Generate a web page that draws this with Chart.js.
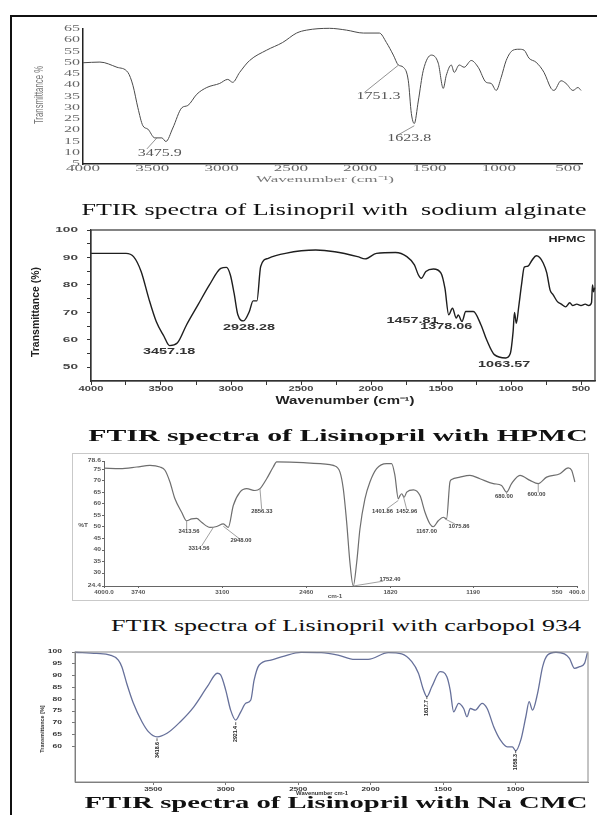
<!DOCTYPE html>
<html>
<head>
<meta charset="utf-8">
<script src="https://cdn.jsdelivr.net/npm/chart.js@4.4.0/dist/chart.umd.min.js"></script>
<style>
  html, body { margin: 0; padding: 0; background: #fff; }
  body { width: 597px; height: 815px; position: relative; overflow: hidden; }
  #frame { position: absolute; left: 10px; top: 15px; width: 620px; height: 820px; border-left: 2px solid #111; border-top: 2px solid #111; }
  #box3 { position: absolute; left: 72px; top: 453px; width: 515px; height: 146px; border: 1px solid #c9c9c9; }
  canvas { position: absolute; left: 0; }
  .cap { position: absolute; white-space: pre; font-family: "Liberation Serif", "Times New Roman", serif; font-size: 17px; color: #111; line-height: 1; }
  .cap.b { font-weight: bold; }
</style>
</head>
<body>
<div id="frame"></div>
<div id="box3"></div>
<canvas id="c1"></canvas>
<canvas id="c2"></canvas>
<canvas id="c3"></canvas>
<canvas id="c4"></canvas>
<script>
// ---- sodium alginate ----
const wn1 = [4000,3878,3755,3676,3640,3604,3568,3532,3482,3431,3402,3352,3287,3244,3179,3107,3014,2956,2920,2870,2798,2675,2560,2459,2387,2222,2099,1977,1862,1811,1761,1725,1689,1653,1631,1610,1581,1545,1487,1437,1401,1379,1343,1322,1286,1250,1199,1149,1091,1055,1019,983,947,897,854,818,782,731,674,623,602,551,515,465,429,407];
const t1 = [50,50.3,48,45.7,40,30,22,20.5,16.6,16.6,15,21,30,31,36,39,40.8,42.6,41.3,45.7,51,55.6,59,63.2,64.5,65.3,64.5,63.2,63.2,59,53.4,49,48,42,27.4,23,33,46.6,53.4,49.8,38.6,44.4,49,45.7,49,48,51,48,41.3,40.8,37.7,43.5,51,55.6,56,55.6,52,50.2,45.7,38.6,37.7,42,40.8,37.7,39,37.7];
const xTicks1 = [4000,3500,3000,2500,2000,1500,1000,500];
const yTicks1 = [5,10,15,20,25,30,35,40,45,50,55,60,65];
const peaks1 = ['3475.9','1751.3','1623.8'];
const peakWn1 = [3446,1869,1646];
const peakT1 = [9.9,35,16.2];
const leaders1 = [[3539,11.7,3467,16.6],[1970,36.8,1725,48.9],[1739,17.5,1610,22]];

// ---- HPMC ----
const wn2 = [4000,3750,3696,3642,3588,3534,3479,3439,3384,3317,3235,3154,3073,3032,3005,2978,2951,2910,2869,2842,2815,2788,2734,2611,2395,2259,2096,2042,1961,1825,1744,1690,1662,1641,1608,1554,1500,1472,1445,1418,1391,1377,1350,1323,1269,1215,1174,1119,1038,1005,985,975,962,945,925,905,880,850,820,795,770,745,720,700,670,640,610,580,560,530,500,470,445,425,418,410,402];
const t2 = [91.5,91.5,90.3,84.9,75.2,66.7,61.3,57.9,58.8,65.5,72.8,80,86,86.4,83.7,77,69.1,66.9,70.3,74.2,74.2,86.7,89.7,91.5,92.7,92.1,90.3,89.5,91.5,91.8,90.3,87.3,83.7,82.4,84.9,85.8,84.3,78.8,69.1,71.5,67.9,69.1,66.7,70.3,70.3,65.5,60,54.6,53.4,55,63,70,66,72,80,86.5,86.8,89,90.6,90,88,84.5,78,76.5,74,73,72,73.5,72.5,73,72.5,73,72.5,73.5,80,77.5,79];
const xTicks2 = [4000,3750,3500,3250,3000,2750,2500,2250,2000,1750,1500,1250,1000,750,500];
const yTicks2 = [50,55,60,65,70,75,80,85,90,95,100];
const xLabels2 = [4000,3500,3000,2500,2000,1500,1000,500];
const yLabels2 = [50,60,70,80,90,100];
const peaks2 = ['3457.18','2928.28','1457.81','1378.06','1063.57'];
const peakWn2 = [3442,2872,1704,1462,1049];
const peakT2 = [55.7,64.6,66.9,65.0,51.0];

// ---- carbopol 934 ----
const wn3 = [4000,3878,3751,3650,3574,3536,3498,3460,3409,3371,3333,3295,3257,3193,3142,3092,3054,3016,2965,2914,2851,2813,2762,2712,2686,2483,2280,2255,2204,2179,2153,2128,2103,2077,2052,2014,1976,1925,1849,1811,1786,1760,1747,1734,1716,1696,1645,1595,1557,1519,1494,1456,1418,1393,1367,1354,1291,1215,1139,1037,974,936,898,834,758,695,631,530,467,441,416];
const t3 = [75.5,75.3,76,76.7,76,74.6,69.5,62.2,56.4,52.7,53.5,53.7,52,49.8,50.2,51.3,49.8,59.3,65.1,66.6,65.8,66.6,70.9,76,78.2,77.9,77,76.7,73.8,66.6,52,34.5,24.4,34.5,49.1,62.2,69.5,75.3,77.5,77.5,72.4,62.2,63.6,64.4,62.9,65.1,66.1,63.6,56.4,51.3,50.1,52.7,54.2,53.5,69.5,70.6,71.6,72.4,70.9,68.8,68,65.1,68.8,72.4,70.2,68.8,71.6,73.1,75.6,74.6,69.5];
const xTicks3 = [4000,3740,3100,2460,1820,1190,550,400];
const xLabels3 = ['4000.0','3740','3100','2460','1820','1190','550','400.0'];
const yTicks3 = [24.4,30,35,40,45,50,55,60,65,70,75,78.6];
const peaks3 = ['3413.56','3314.56','2948.00','2856.33','1752.40','1401.86','1452.96','1167.00','1075.86','680.00','600.00'];
const peakWn3 = [3353,3277,2957,2798,1823,1880,1697,1545,1298,956,708];
const peakT3 = [47.9,40.6,44,56.7,27.3,56.7,56.7,47.9,50.2,63.3,64];
const leaders3 = [[3371,52.7,3371,48.8],[3168,49.8,3257,41.8],[3092,50.3,2965,44.7],[2813,66.6,2800,57.8],[2103,24.4,1875,26.5],[1760,61.5,1849,57.8],[1723,63.6,1697,57.8],[1405,53.5,1329,51.3],[936,65.1,936,64.2],[695,68.8,695,64.9]];

// ---- Na CMC ----
const wn4 = [4040,3891,3798,3741,3717,3683,3637,3578,3532,3474,3405,3313,3220,3127,3058,3035,3000,2966,2931,2896,2862,2827,2804,2769,2688,2596,2480,2341,2225,2110,2017,1878,1786,1716,1670,1635,1612,1578,1520,1474,1451,1427,1393,1358,1335,1312,1277,1231,1196,1150,1104,1057,1022,999,964,929,906,883,848,813,779,721,663,628,593,559,524,505];
const t4 = [99.9,99.4,98.7,96.6,93.8,86.7,78.3,70.5,66.2,64.1,65.6,70.5,76.8,85.3,91,90.3,83.9,75.4,71.2,74.7,78.3,79.7,88.1,94.5,96.6,98.3,99.8,99.7,98.7,96.9,96.9,99.7,99.2,95.9,91,83.9,81.1,85.3,91.7,89.5,83.9,74.7,78.3,76.1,72.6,76.1,75.4,78.3,76.1,68.3,62.7,59.9,59.9,58.2,62.7,72.6,79,75.4,82.5,93.8,98.7,99.9,99.2,97.3,93.1,93.8,95.2,99.5];
const xTicks4 = [3500,3000,2500,2000,1500,1000];
const yTicks4 = [60,65,70,75,80,85,90,95,100];
const peaks4 = ['3418.6','2921.4','1617.7','1058.3'];
const peakWn4 = [3474,2931,1612,999];
const peakT4 = [58.5,65.3,76.3,53.4];

const W = 597;

function txt(ctx, s, x, y, o) {
    ctx.save();
    ctx.translate(x, y);
    if (o.rot) ctx.rotate(o.rot);
    ctx.scale(o.sx || 1, 1);
    ctx.font = o.font;
    ctx.fillStyle = o.color || '#333';
    ctx.textAlign = o.align || 'center';
    ctx.textBaseline = 'middle';
    ctx.fillText(s, 0, 0);
    ctx.restore();
}

// labels, titles, leader lines and frame, all placed through the chart scales
function deco(cfg) {
    return {
        id: 'deco',
        afterDraw(chart) {
            const ctx = chart.ctx, a = chart.chartArea;
            const px = v => chart.scales.x.getPixelForValue(v);
            const py = v => chart.scales.y.getPixelForValue(v);
            ctx.save();
            if (cfg.frame) {
                ctx.strokeStyle = cfg.frame;
                ctx.lineWidth = cfg.frameW;
                ctx.strokeRect(a.left, a.top, a.right - a.left, a.bottom - a.top);
            }
            ctx.strokeStyle = cfg.leadColor || '#777';
            ctx.lineWidth = 0.8;
            (cfg.leaders || []).forEach(l => {
                ctx.beginPath();
                ctx.moveTo(px(l[0]), py(l[1]));
                ctx.lineTo(px(l[2]), py(l[3]));
                ctx.stroke();
            });
            cfg.yLab.values.forEach((v, i) => txt(ctx, cfg.yLab.text[i], cfg.yLab.x, py(v), cfg.yLab));
            cfg.xLab.values.forEach((v, i) => txt(ctx, cfg.xLab.text[i], px(v), cfg.xLab.y - cfg.top, cfg.xLab));
            (cfg.notes || []).forEach(n => txt(ctx, n.s, px(n.wn), py(n.t), cfg.note));
            (cfg.titles || []).forEach(t => txt(ctx, t.s, t.x, t.y - cfg.top, t));
            ctx.restore();
        }
    };
}

function spectrum(id, top, height, wn, t, o) {
    const el = document.getElementById(id);
    el.style.top = top + 'px';
    el.width = W;
    el.height = height;
    const axis = (ticks, fit) => ({
        type: 'linear',
        afterBuildTicks: s => { s.ticks = ticks.map(v => ({ value: v })); },
        afterFit: fit,
        ticks: { display: false },
        grid: { display: true, drawOnChartArea: false, drawTicks: o.tickLen > 0, tickLength: o.tickLen, color: o.axis, lineWidth: 1 },
        border: { display: true, color: o.axis, width: o.axisW }
    });
    return new Chart(el, {
        type: 'line',
        data: {
            datasets: [{
                data: wn.map((w, i) => ({ x: w, y: t[i] })),
                borderColor: o.color,
                borderWidth: o.lineW,
                pointRadius: 0,
                cubicInterpolationMode: 'monotone',
                fill: false,
                clip: 4
            }]
        },
        options: {
            responsive: false,
            animation: false,
            events: [],
            layout: { padding: { left: 0, right: W - o.area.right, top: o.area.top - top, bottom: 0 } },
            plugins: { legend: { display: false }, tooltip: { enabled: false } },
            scales: {
                x: Object.assign(axis(o.xTicks, s => { s.height = top + height - o.area.bottom; }), { reverse: true, min: o.xMin, max: o.xMax }),
                y: Object.assign(axis(o.yTicks, s => { s.width = o.area.left; }), { min: o.yMin, max: o.yMax })
            }
        },
        plugins: [deco(Object.assign({ top: top }, o.deco))]
    });
}

const serif = '"Liberation Serif", "Times New Roman", serif';
const sans = '"Liberation Sans", Arial, sans-serif';
const narrow = '"Liberation Sans Narrow", "Liberation Sans", sans-serif';

spectrum('c1', 0, 195, wn1, t1, {
    area: { left: 83, right: 582, top: 29, bottom: 164 },
    xMin: 400, xMax: 4000, yMin: 5, yMax: 65,
    xTicks: xTicks1, yTicks: yTicks1,
    tickLen: 0, axis: '#222', axisW: 1.5, color: '#4a4a4a', lineW: 1,
    deco: {
        yLab: { values: yTicks1, text: yTicks1.map(String), x: 80, font: '8px ' + serif, sx: 2, color: '#666', align: 'right' },
        xLab: { values: xTicks1, text: xTicks1.map(String), y: 169, font: '9px ' + serif, sx: 1.9, color: '#666' },
        note: { font: '10px ' + serif, sx: 1.6, color: '#555' },
        notes: peaks1.map((s, i) => ({ s: s, wn: peakWn1[i], t: peakT1[i] })),
        leaders: leaders1, leadColor: '#777',
        titles: [
            { s: 'Transmittance %', x: 40, y: 95, rot: -Math.PI / 2, font: '12px ' + narrow, sx: 0.65, color: '#777' },
            { s: 'Wavenumber (cm\u207B\u00B9)', x: 325, y: 180, font: '9px ' + serif, sx: 1.9, color: '#777' }
        ]
    }
});

spectrum('c2', 215, 195, wn2, t2, {
    area: { left: 91, right: 595, top: 230, bottom: 381 },
    xMin: 400, xMax: 4000, yMin: 45, yMax: 100,
    xTicks: xTicks2, yTicks: yTicks2,
    tickLen: 4, axis: '#333', axisW: 1.2, color: '#1e1e1e', lineW: 1.4,
    deco: {
        frame: '#333', frameW: 1.2,
        yLab: { values: yLabels2, text: yLabels2.map(String), x: 78, font: 'bold 8px ' + sans, sx: 1.7, color: '#444', align: 'right' },
        xLab: { values: xLabels2, text: xLabels2.map(String), y: 389, font: 'bold 8px ' + sans, sx: 1.4, color: '#444' },
        note: { font: 'bold 9px ' + sans, sx: 1.6, color: '#333' },
        notes: peaks2.map((s, i) => ({ s: s, wn: peakWn2[i], t: peakT2[i] })),
        titles: [
            { s: 'HPMC', x: 567, y: 240, font: 'bold 9px ' + sans, sx: 1.4, color: '#222' },
            { s: 'Wavenumber (cm\u207B\u00B9)', x: 345, y: 401, font: 'bold 10px ' + sans, sx: 1.5, color: '#222' },
            { s: 'Transmittance (%)', x: 36, y: 312, rot: -Math.PI / 2, font: 'bold 11px ' + narrow, sx: 0.95, color: '#222' }
        ]
    }
});

spectrum('c3', 440, 170, wn3, t3, {
    area: { left: 104, right: 577, top: 461, bottom: 586 },
    xMin: 400, xMax: 4000, yMin: 24.4, yMax: 78.6,
    xTicks: xTicks3, yTicks: yTicks3,
    tickLen: 2, axis: '#666', axisW: 1, color: '#6e6e6e', lineW: 1.2,
    deco: {
        yLab: { values: yTicks3, text: yTicks3.map(String), x: 101, font: 'bold 4.5px ' + sans, sx: 1.5, color: '#555', align: 'right' },
        xLab: { values: xTicks3, text: xLabels3, y: 593, font: 'bold 4.5px ' + sans, sx: 1.4, color: '#555' },
        note: { font: 'bold 4.5px ' + sans, sx: 1.3, color: '#444' },
        notes: peaks3.map((s, i) => ({ s: s, wn: peakWn3[i], t: peakT3[i] })),
        leaders: leaders3, leadColor: '#888',
        titles: [
            { s: '%T', x: 83, y: 526, font: 'bold 5px ' + sans, sx: 1.3, color: '#555' },
            { s: 'cm-1', x: 335, y: 597, font: 'bold 4.5px ' + sans, sx: 1.4, color: '#555' }
        ]
    }
});

spectrum('c4', 640, 160, wn4, t4, {
    area: { left: 75, right: 588, top: 652, bottom: 782 },
    xMin: 500, xMax: 4040, yMin: 45, yMax: 100,
    xTicks: xTicks4, yTicks: yTicks4,
    tickLen: 3, axis: '#777', axisW: 1, color: '#66709a', lineW: 1.3,
    deco: {
        frame: '#888', frameW: 1,
        yLab: { values: yTicks4, text: yTicks4.map(String), x: 62, font: 'bold 5px ' + sans, sx: 1.7, color: '#333', align: 'right' },
        xLab: { values: xTicks4, text: xTicks4.map(String), y: 790, font: 'bold 4.5px ' + sans, sx: 1.8, color: '#333' },
        note: { font: 'bold 5.5px ' + sans, sx: 0.95, color: '#222', rot: -Math.PI / 2 },
        notes: peaks4.map((s, i) => ({ s: s, wn: peakWn4[i], t: peakT4[i] })),
        leaders: peakWn4.map((w, i) => [w, peakT4[i] + 5, w, peakT4[i] + 3.8]), leadColor: '#333',
        titles: [
            { s: 'Transmittance [%]', x: 42, y: 729, rot: -Math.PI / 2, font: 'bold 5.5px ' + sans, sx: 1, color: '#333' },
            { s: 'Wavenumber cm-1', x: 322, y: 794, font: 'bold 4.5px ' + sans, sx: 1.3, color: '#333' }
        ]
    }
});

// captions under each spectrum, stretched to the width they take in the figure
const captions = [
    ['FTIR spectra of Lisinopril with  sodium alginate', false, 334, 209, 505],
    ['FTIR spectra of Lisinopril with HPMC', true, 338, 435, 500],
    ['FTIR spectra of Lisinopril with carbopol 934', false, 346, 625, 470],
    ['FTIR spectra of Lisinopril with Na CMC', true, 336, 802, 502]
];
captions.forEach(c => {
    const span = document.createElement('span');
    span.className = 'cap' + (c[1] ? ' b' : '');
    span.textContent = c[0];
    document.body.appendChild(span);
    const k = c[4] / span.offsetWidth;
    span.style.left = c[2] + 'px';
    span.style.top = c[3] + 'px';
    span.style.transform = 'translate(-50%, -50%) scaleX(' + k.toFixed(3) + ')';
});
</script>
</body>
</html>
